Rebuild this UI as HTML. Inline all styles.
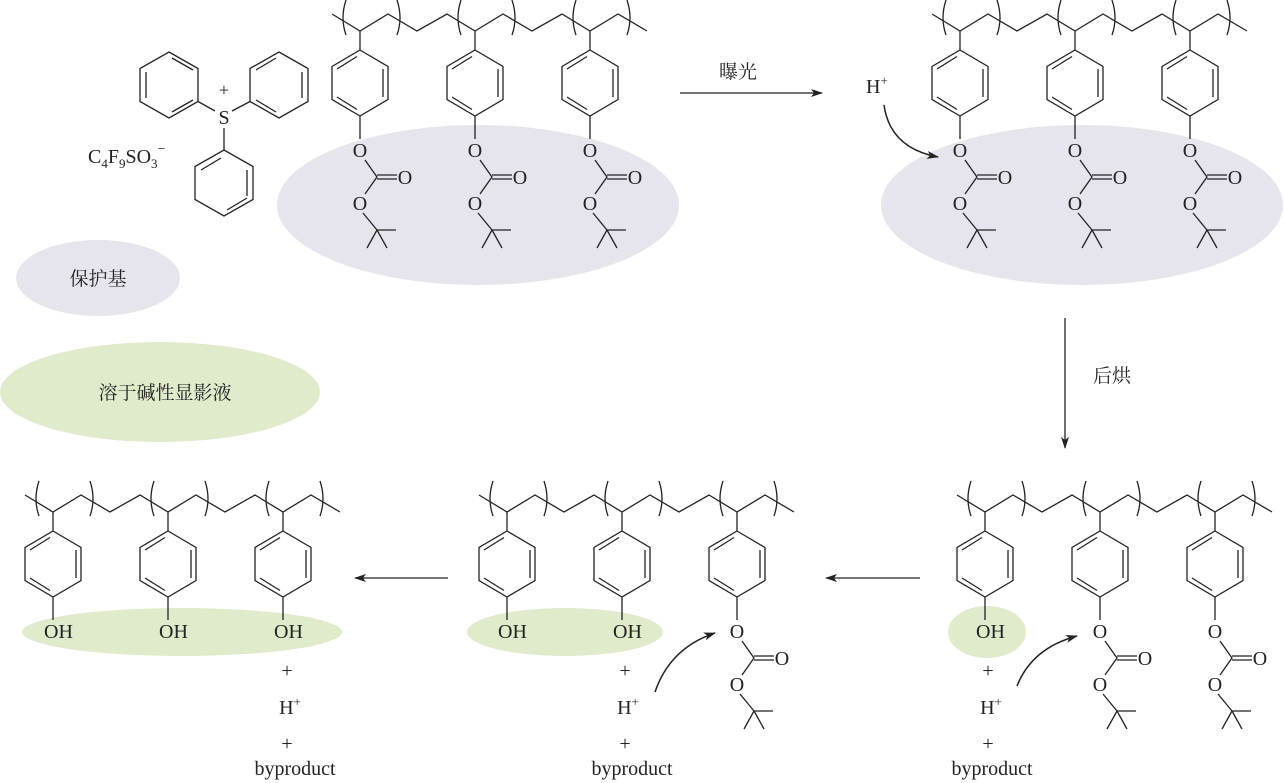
<!DOCTYPE html>
<html><head><meta charset="utf-8"><style>
html,body{margin:0;padding:0;background:#fff;}
svg{display:block;}
text{font-family:"Liberation Serif","Noto Serif CJK SC",serif;font-size:20px;fill:#222;}
.cn{font-family:"Liberation Serif","Noto Serif CJK SC",serif;font-size:19px;}
</style></head><body>
<svg width="1284" height="783" viewBox="0 0 1284 783" xmlns="http://www.w3.org/2000/svg">
<defs>
<marker id="ah" markerWidth="12" markerHeight="8" refX="11" refY="4" orient="auto" markerUnits="userSpaceOnUse">
<path d="M0,0 L12,4 L0,8 L3,4 Z" fill="#222"/></marker>
<g id="bb" fill="none" stroke="#222" stroke-width="1.3">
<polyline points="-28,-17 0,0 28,-17 57,0 87,-17 115,0 143,-17 172,0 202,-17 230,0 258,-17 287,0"/>
<path d="M-14,-31 Q-20,-13 -14,4 M37,-31 Q43,-13 37,4 M101,-31 Q95,-13 101,4 M152,-31 Q158,-13 152,4 M216,-31 Q210,-13 216,4 M267,-31 Q273,-13 267,4"/>
</g>
<g id="ring" fill="none" stroke="#222" stroke-width="1.3">
<path d="M0,0 L0,19 M0,19 L28,35.5 L28,68.5 L0,85 L-28,68.5 L-28,35.5 Z M0,85 L0,108"/>
<path d="M23,38 L23,66 M-3,25.5 L-23,38 M-23,66 L-3,78.5"/>
</g>
<g id="boc" fill="none" stroke="#222" stroke-width="1.3">
<path d="M5,129 L17,146 L5,163 M17,144 L37,144 M17,148 L37,148 M3,182 L17,199 L36,199 M17,199 L7,217 M17,199 L27,217"/>
</g>
</defs>

<ellipse cx="478" cy="205" rx="201" ry="80" fill="#e6e5ee"/>
<ellipse cx="1082" cy="205" rx="201" ry="80" fill="#e6e5ee"/>
<ellipse cx="98" cy="278" rx="82" ry="38" fill="#e6e5ee"/>
<ellipse cx="160" cy="392" rx="160" ry="50" fill="#dfebcb"/>
<ellipse cx="182" cy="632" rx="160" ry="24" fill="#dfebcb"/>
<ellipse cx="565" cy="632" rx="98" ry="24" fill="#dfebcb"/>
<ellipse cx="987" cy="632" rx="39" ry="26" fill="#dfebcb"/>

<text class="cn" x="98" y="285" text-anchor="middle">保护基</text>
<text class="cn" x="165" y="399" text-anchor="middle">溶于碱性显影液</text>

<g fill="none" stroke="#222" stroke-width="1.3">
<path d="M169,52 L198,68.5 L198,101.5 L169,118 L140,101.5 L140,68.5 Z M146,72 L146,98 M172,58 L193,70 M172,112 L193,100"/>
<path d="M198,101.5 L215,111 M232,111 L250,101.5 M224,128 L224,150"/>
<path d="M279,52 L308,68.5 L308,101.5 L279,118 L250,101.5 L250,68.5 Z M302,72 L302,98 M256,70 L276,58 M256,100 L276,112"/>
<path d="M224,150 L253,166.5 L253,199.5 L224,216 L195,199.5 L195,166.5 Z M247,170 L247,196 M201,170 L221,158 M227,210 L247,198"/>
</g>
<text x="224" y="124" text-anchor="middle">S</text>
<text x="224" y="96" text-anchor="middle" style="font-size:18px">+</text>
<text x="88" y="163">C<tspan dy="5" style="font-size:13px">4</tspan><tspan dy="-5">F</tspan><tspan dy="5" style="font-size:13px">9</tspan><tspan dy="-5">SO</tspan><tspan dy="5" style="font-size:13px">3</tspan><tspan dy="-15" style="font-size:14px">−</tspan></text>

<g transform="translate(360,31)">
<use href="#bb"/>
<use href="#ring"/><use href="#ring" x="115"/><use href="#ring" x="230"/>
<use href="#boc"/><use href="#boc" x="115"/><use href="#boc" x="230"/>
<text x="0" y="126" text-anchor="middle">O</text><text x="45" y="153" text-anchor="middle">O</text><text x="0" y="179" text-anchor="middle">O</text>
<text x="115" y="126" text-anchor="middle">O</text><text x="160" y="153" text-anchor="middle">O</text><text x="115" y="179" text-anchor="middle">O</text>
<text x="230" y="126" text-anchor="middle">O</text><text x="275" y="153" text-anchor="middle">O</text><text x="230" y="179" text-anchor="middle">O</text>
</g>

<g transform="translate(960,31)">
<use href="#bb"/>
<use href="#ring"/><use href="#ring" x="115"/><use href="#ring" x="230"/>
<use href="#boc"/><use href="#boc" x="115"/><use href="#boc" x="230"/>
<text x="0" y="126" text-anchor="middle">O</text><text x="45" y="153" text-anchor="middle">O</text><text x="0" y="179" text-anchor="middle">O</text>
<text x="115" y="126" text-anchor="middle">O</text><text x="160" y="153" text-anchor="middle">O</text><text x="115" y="179" text-anchor="middle">O</text>
<text x="230" y="126" text-anchor="middle">O</text><text x="275" y="153" text-anchor="middle">O</text><text x="230" y="179" text-anchor="middle">O</text>
</g>
<text x="866" y="93">H<tspan dy="-8" style="font-size:13px">+</tspan></text>
<path d="M884,105 Q890,148 938,157" fill="none" stroke="#222" stroke-width="1.5" marker-end="url(#ah)"/>

<g transform="translate(53,512)">
<use href="#bb"/>
<use href="#ring"/><use href="#ring" x="115"/><use href="#ring" x="230"/>
<text x="-9" y="126">OH</text><text x="106" y="126">OH</text><text x="221" y="126">OH</text>
</g>

<g transform="translate(507,512)">
<use href="#bb"/>
<use href="#ring"/><use href="#ring" x="115"/><use href="#ring" x="230"/>
<text x="-9" y="126">OH</text><text x="106" y="126">OH</text>
<use href="#boc" x="230"/>
<text x="230" y="126" text-anchor="middle">O</text><text x="275" y="153" text-anchor="middle">O</text><text x="230" y="179" text-anchor="middle">O</text>
</g>
<path d="M655,692 Q670,648 715,633" fill="none" stroke="#222" stroke-width="1.5" marker-end="url(#ah)"/>

<g transform="translate(985,512)">
<use href="#bb"/>
<use href="#ring"/><use href="#ring" x="115"/><use href="#ring" x="230"/>
<text x="-9" y="126">OH</text>
<use href="#boc" x="115"/><use href="#boc" x="230"/>
<text x="115" y="126" text-anchor="middle">O</text><text x="160" y="153" text-anchor="middle">O</text><text x="115" y="179" text-anchor="middle">O</text>
<text x="230" y="126" text-anchor="middle">O</text><text x="275" y="153" text-anchor="middle">O</text><text x="230" y="179" text-anchor="middle">O</text>
</g>
<path d="M1017,686 Q1032,648 1077,636" fill="none" stroke="#222" stroke-width="1.5" marker-end="url(#ah)"/>

<g text-anchor="middle">
<text x="287" y="677">+</text><text x="290" y="714">H<tspan dy="-8" style="font-size:13px">+</tspan></text><text x="287" y="750">+</text><text x="295" y="775">byproduct</text>
<text x="625" y="677">+</text><text x="628" y="714">H<tspan dy="-8" style="font-size:13px">+</tspan></text><text x="625" y="750">+</text><text x="632" y="775">byproduct</text>
<text x="988" y="677">+</text><text x="991" y="714">H<tspan dy="-8" style="font-size:13px">+</tspan></text><text x="988" y="750">+</text><text x="992" y="775">byproduct</text>
</g>

<g stroke="#222" stroke-width="1.3" fill="none">
<line x1="680" y1="93" x2="822" y2="93" marker-end="url(#ah)"/>
<line x1="1065" y1="318" x2="1065" y2="448" marker-end="url(#ah)"/>
<line x1="920" y1="578" x2="826" y2="578" marker-end="url(#ah)"/>
<line x1="448" y1="578" x2="355" y2="578" marker-end="url(#ah)"/>
</g>
<text class="cn" x="738" y="78" text-anchor="middle">曝光</text>
<text class="cn" x="1112" y="382" text-anchor="middle">后烘</text>
</svg>
</body></html>
